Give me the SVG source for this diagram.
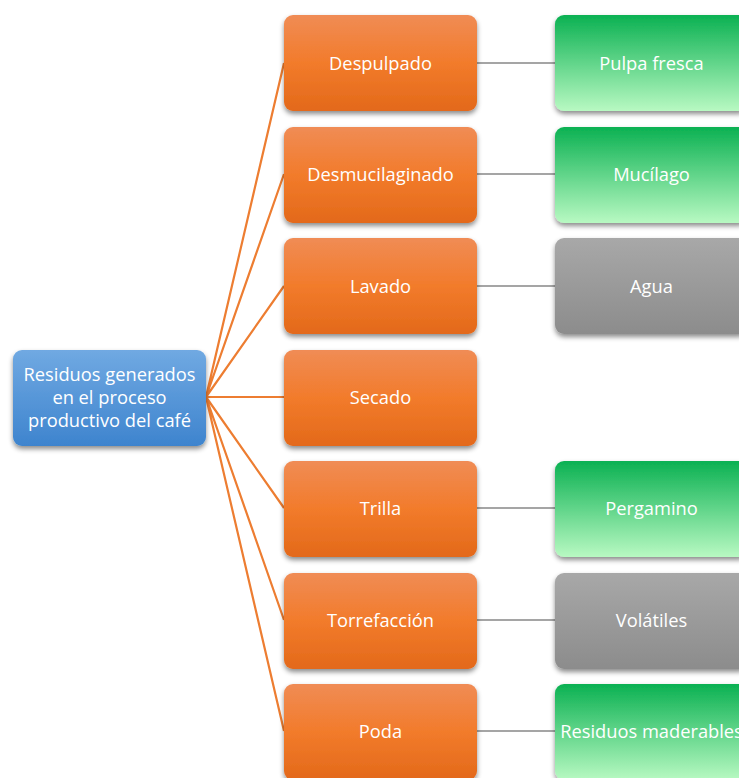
<svg xmlns="http://www.w3.org/2000/svg" width="739" height="778" viewBox="0 0 739 778">
<defs>
<linearGradient id="gO" x1="0" y1="0" x2="0" y2="1"><stop offset="0" stop-color="#f08c55"/><stop offset="0.5" stop-color="#f27b2b"/><stop offset="1" stop-color="#e3691a"/></linearGradient>
<linearGradient id="gG" x1="0" y1="0" x2="0" y2="1"><stop offset="0" stop-color="#0bb152"/><stop offset="1" stop-color="#b8f9c2"/></linearGradient>
<linearGradient id="gY" x1="0" y1="0" x2="0" y2="1"><stop offset="0" stop-color="#a8a8a8"/><stop offset="1" stop-color="#8c8c8c"/></linearGradient>
<linearGradient id="gB" x1="0" y1="0" x2="0" y2="1"><stop offset="0" stop-color="#70a9e2"/><stop offset="1" stop-color="#3e84ce"/></linearGradient>
<filter id="sh" x="-10%" y="-10%" width="120%" height="130%"><feDropShadow dx="0" dy="3" stdDeviation="2.5" flood-color="#000" flood-opacity="0.45"/></filter>
</defs>
<style>
text{font-family:"Open Sans","Liberation Sans",sans-serif;font-size:18.3px;fill:#fff;text-anchor:middle;dominant-baseline:central}
.o{fill:url(#gO);filter:url(#sh)}
.g{fill:url(#gG);filter:url(#sh)}
.y{fill:url(#gY);filter:url(#sh)}
.b{fill:url(#gB);filter:url(#sh)}
.lo{stroke:#ed7d31;stroke-width:2.2;fill:none}
.lg{stroke:#a5a5a5;stroke-width:2.2;fill:none}
</style>
<g id="connectors">
<path class="lo" d="M206 397L284 63M206 397L284 174M206 397L284 286M206 397L284 397M206 397L284 508M206 397L284 620M206 397L284 731"/>
<path class="lg" d="M477 63H555M477 174H555M477 286H555M477 508H555M477 620H555M477 731H555"/>
</g>
<g id="root"><rect class="b" x="13" y="350" width="193" height="96" rx="9"/><text x="109.5" y="373">Residuos generados</text><text x="109.5" y="396">en el proceso</text><text x="109.5" y="419">productivo del café</text></g>
<g id="despulpado"><rect class="o" x="284" y="15" width="193" height="96" rx="9"/><text x="380.5" y="62">Despulpado</text></g>
<g id="desmucilaginado"><rect class="o" x="284" y="127" width="193" height="96" rx="9"/><text x="380.5" y="173">Desmucilaginado</text></g>
<g id="lavado"><rect class="o" x="284" y="238" width="193" height="96" rx="9"/><text x="380.5" y="285">Lavado</text></g>
<g id="secado"><rect class="o" x="284" y="350" width="193" height="96" rx="9"/><text x="380.5" y="396">Secado</text></g>
<g id="trilla"><rect class="o" x="284" y="461" width="193" height="96" rx="9"/><text x="380.5" y="507">Trilla</text></g>
<g id="torrefaccion"><rect class="o" x="284" y="573" width="193" height="96" rx="9"/><text x="380.5" y="619">Torrefacción</text></g>
<g id="poda"><rect class="o" x="284" y="684" width="193" height="96" rx="9"/><text x="380.5" y="730">Poda</text></g>
<g id="pulpa"><rect class="g" x="555" y="15" width="193" height="96" rx="9"/><text x="651.5" y="62">Pulpa fresca</text></g>
<g id="mucilago"><rect class="g" x="555" y="127" width="193" height="96" rx="9"/><text x="651.5" y="173">Mucílago</text></g>
<g id="agua"><rect class="y" x="555" y="238" width="193" height="96" rx="9"/><text x="651.5" y="285">Agua</text></g>
<g id="pergamino"><rect class="g" x="555" y="461" width="193" height="96" rx="9"/><text x="651.5" y="507">Pergamino</text></g>
<g id="volatiles"><rect class="y" x="555" y="573" width="193" height="96" rx="9"/><text x="651.5" y="619">Volátiles</text></g>
<g id="maderables"><rect class="g" x="555" y="684" width="193" height="96" rx="9"/><text x="651.5" y="730">Residuos maderables</text></g>
</svg>
